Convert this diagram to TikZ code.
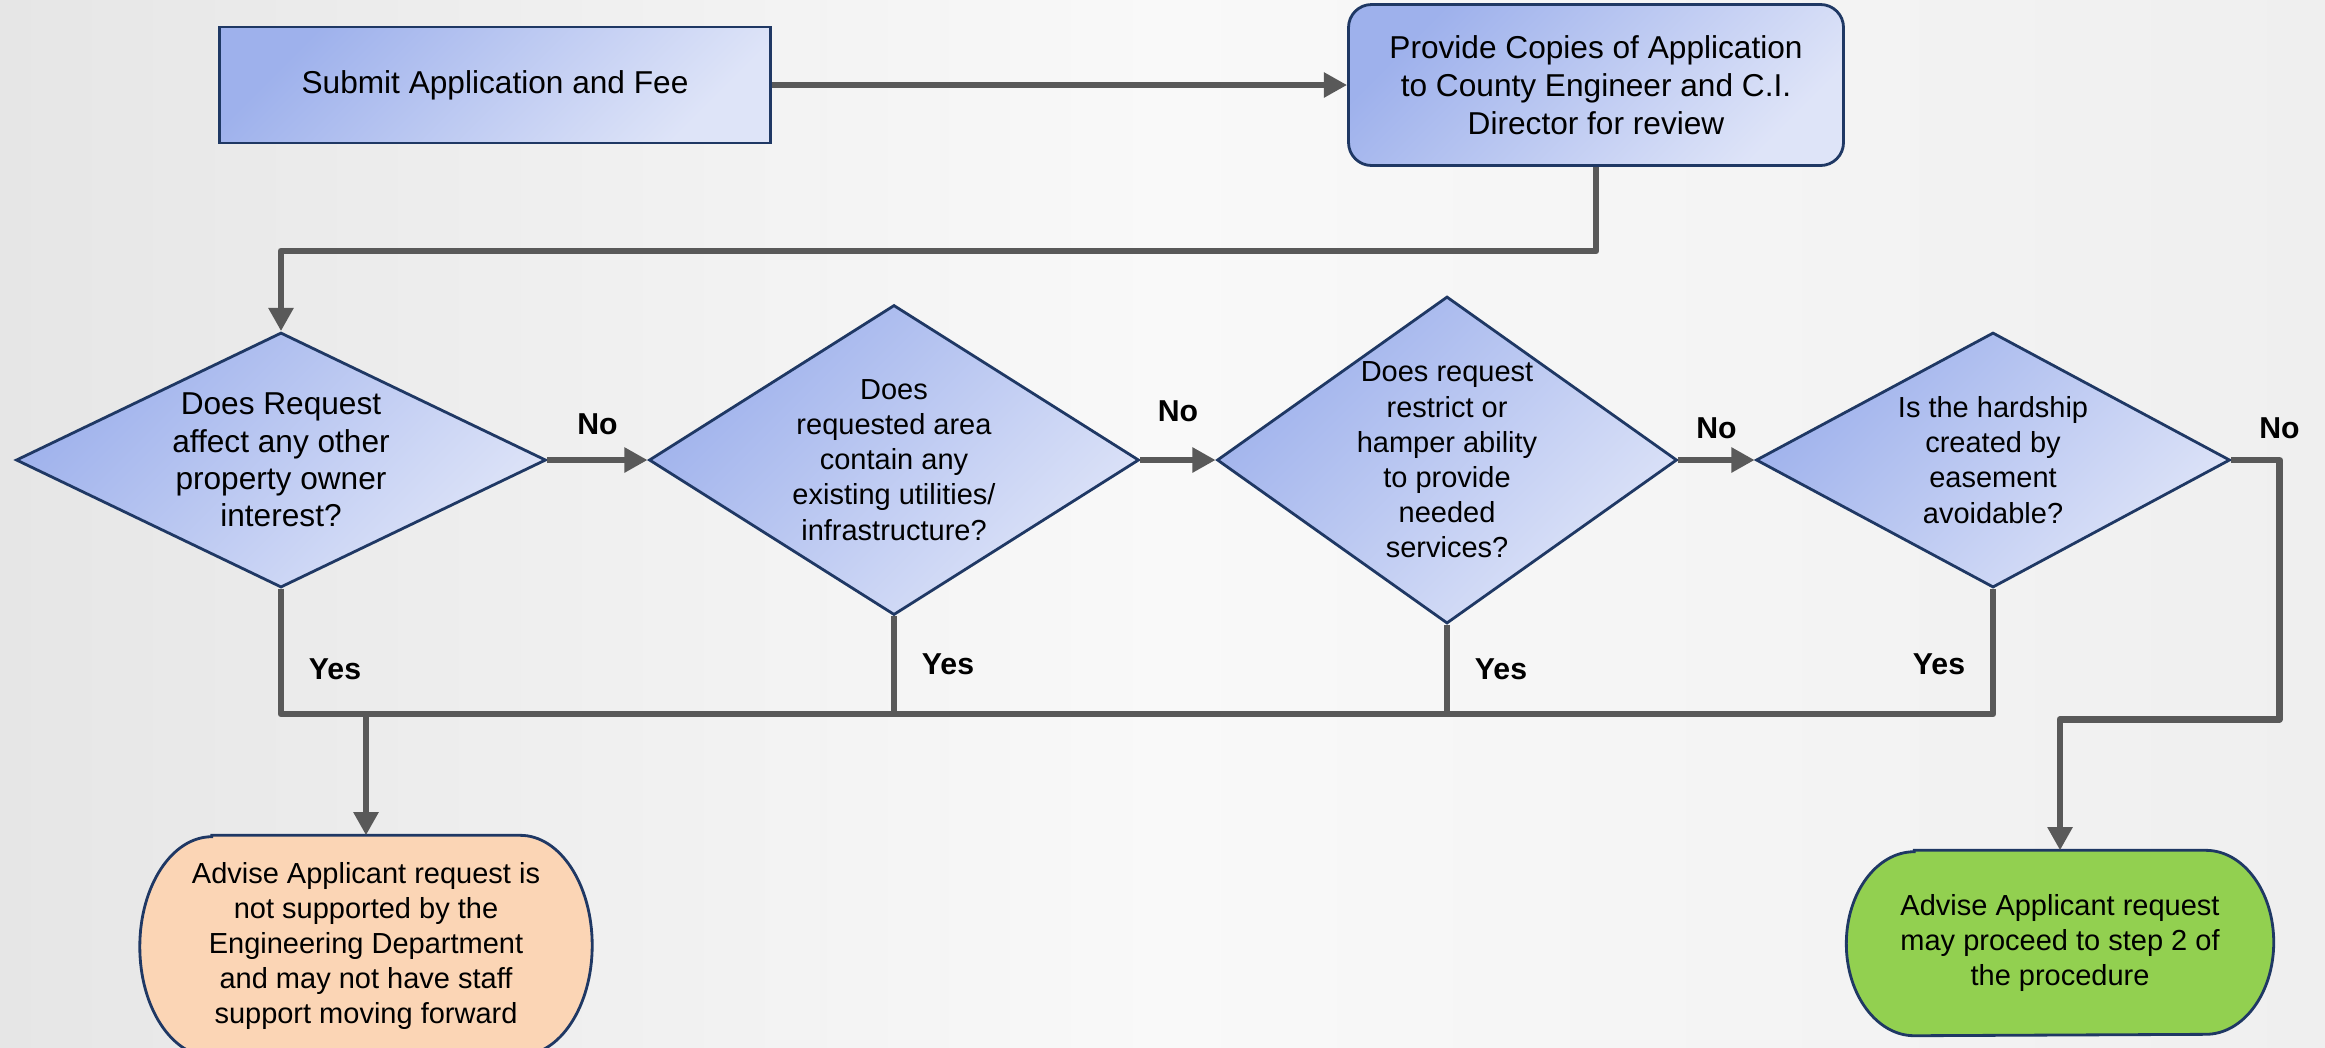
\documentclass[tikz,border=0pt]{standalone}
\usepackage{fontspec}
\setmainfont{Liberation Sans}
\usetikzlibrary{shapes,arrows,arrows.meta,positioning,backgrounds}
\pgfdeclarelayer{canvas}
\pgfsetlayers{canvas,background,main}
\definecolor{blueD}{RGB}{158,177,236}
\definecolor{blueL}{RGB}{222,228,248}
\definecolor{navy}{RGB}{31,56,100}
\definecolor{linegray}{RGB}{89,89,89}
\definecolor{peach}{RGB}{251,213,181}
\definecolor{leaf}{RGB}{146,208,80}
\definecolor{bgL}{RGB}{230,230,230}
\definecolor{bgM}{RGB}{249,249,249}
\definecolor{bgR}{RGB}{239,239,239}
\tikzstyle{block} = [rectangle, draw=navy, line width=0.8pt, top color=blueD,
    bottom color=blueL, shading angle=45, align=center, font=\fontsize{9}{10.8}\selectfont]
\tikzstyle{decision} = [diamond, draw=navy, line width=0.8pt, top color=blueD,
    bottom color=blueL, shading angle=45, align=center, inner sep=-2pt,
    font=\fontsize{8.25}{10}\selectfont]
\tikzstyle{terminal} = [rectangle, align=center, font=\fontsize{8.25}{10}\selectfont]
\tikzstyle{termshape} = [draw=navy, line width=0.8pt]
\tikzstyle{line} = [draw=linegray, line width=1.9pt, line join=round, -{Triangle[length=6.6pt,width=6.8pt]}]
\tikzstyle{link} = [draw=linegray, line width=1.9pt, line join=round]
\tikzstyle{answer} = [font=\bfseries\fontsize{8.6}{10}\selectfont, inner sep=1pt]
\begin{document}
\begin{tikzpicture}[node distance = 5em, auto]
	\useasboundingbox (0,0) rectangle (23.25,-10.47);
	\begin{pgfonlayer}{canvas}
	\shade [left color=bgL, right color=bgR, middle color=bgM] (0,0) rectangle (23.25,-10.47);
	\end{pgfonlayer}
	% Place nodes
	\node [block, minimum width=5.51cm, minimum height=1.16cm] (submit) at (4.95,-0.85) {Submit Application and Fee};
	\node [block, rounded corners=0.23cm, minimum width=4.95cm, minimum height=1.61cm, right of=submit, node distance=11.01cm] (provide) {Provide Copies of Application\\ to County Engineer and C.I.\\ Director for review};
	\node [decision, aspect=2.08, minimum width=5.30cm, minimum height=2.55cm, font=\fontsize{9}{10.6}\selectfont] (affect) at (2.81,-4.60) {Does Request\\ affect any other\\ property owner\\ interest?};
	\node [decision, aspect=1.58, minimum width=4.90cm, minimum height=3.10cm, right of=affect, node distance=6.13cm] (utility) {Does\\ requested area\\ contain any\\ existing utilities/\\ infrastructure?};
	\node [decision, aspect=1.41, minimum width=4.60cm, minimum height=3.27cm, right of=utility, node distance=5.53cm] (service) {Does request\\ restrict or\\ hamper ability\\ to provide\\ needed\\ services?};
	\node [decision, aspect=1.86, minimum width=4.74cm, minimum height=2.55cm, right of=service, node distance=5.46cm] (hardship) {Is the hardship\\ created by\\ easement\\ avoidable?};
	\node [terminal, minimum width=4.51cm, minimum height=2.20cm, below of=affect, node distance=4.86cm, xshift=0.85cm] (denied) {Advise Applicant request is\\ not supported by the\\ Engineering Department\\ and may not have staff\\ support moving forward};
	\node [terminal, minimum width=4.26cm, minimum height=1.84cm, below of=hardship, node distance=4.83cm, xshift=0.67cm] (proceed) {Advise Applicant request\\ may proceed to step 2 of\\ the procedure};
	% Terminal outlines
	\begin{pgfonlayer}{background}
	\filldraw [termshape, fill=peach] ([xshift=0.72cm]denied.north west) -- ([xshift=-0.72cm]denied.north east)
	    arc[start angle=90, end angle=-90, x radius=0.72cm, y radius=1.10cm]
	    -- ([xshift=0.72cm]denied.south west)
	    arc[start angle=270, end angle=90, x radius=0.72cm, y radius=1.10cm] -- cycle;
	\filldraw [termshape, fill=leaf] ([xshift=0.68cm]proceed.north west) -- ([xshift=-0.68cm]proceed.north east)
	    arc[start angle=90, end angle=-90, x radius=0.68cm, y radius=0.92cm]
	    -- ([xshift=0.68cm]proceed.south west)
	    arc[start angle=270, end angle=90, x radius=0.68cm, y radius=0.92cm] -- cycle;
	\end{pgfonlayer}
	% Draw edges
	\path [line] (submit) -- (provide);
	\path [line] (provide.south) -- ++(0,-0.84) -| (affect.north);
	\path [line] (affect) -- node[answer, above=5.3pt] {No} (utility);
	\path [line] (utility) -- node[answer, above=9pt] {No} (service);
	\path [line] (service) -- node[answer, above=4.1pt] {No} (hardship);
	\path [link] (affect.south) -- node[answer, pos=0.64, right=6pt] {Yes} ++(0,-1.25) coordinate (bus)
	    -| node[answer, pos=0.7, left=6pt] {Yes} (hardship.south);
	\path [link] (utility.south) -- node[answer, pos=0.49, right=6pt] {Yes} (utility.south |- bus);
	\path [link] (service.south) -- node[answer, pos=0.5, right=6pt] {Yes} (service.south |- bus);
	\path [line] (denied.north |- bus) -- (denied.north);
	\path [line] (hardship.east) -- ++(0.48,0) node[answer, above=4.1pt] {No}
	    |- ([yshift=1.31cm]proceed.north) -- (proceed.north);
\end{tikzpicture}
\end{document}
